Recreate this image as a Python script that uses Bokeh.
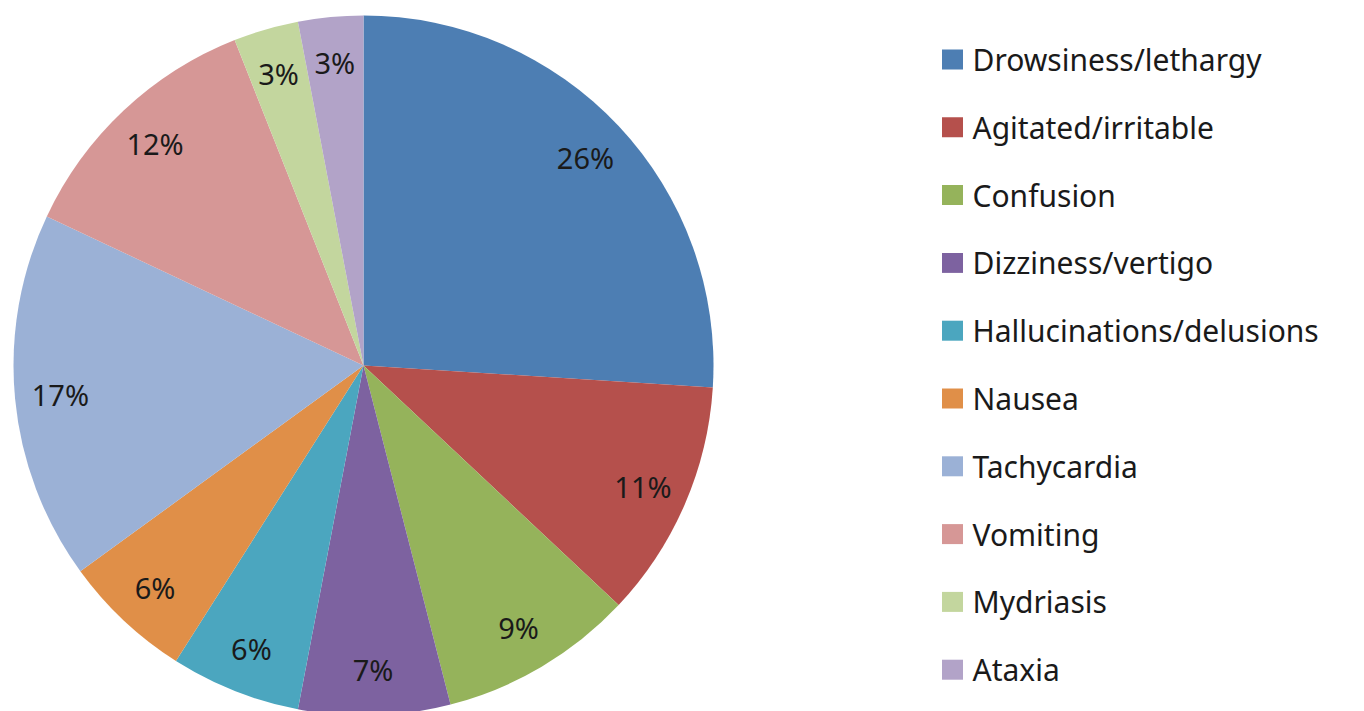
import numpy as np
from bokeh.plotting import figure
from bokeh.models import Range1d, ColumnDataSource
from bokeh.core.properties import value
from bokeh.embed import file_html
from bokeh.resources import INLINE

categories = ["Drowsiness/lethargy", "Agitated/irritable", "Confusion", "Dizziness/vertigo",
              "Hallucinations/delusions", "Nausea", "Tachycardia", "Vomiting", "Mydriasis", "Ataxia"]
percents = [26, 11, 9, 7, 6, 6, 17, 12, 3, 3]
colors = ["#4D7EB3", "#B5504C", "#95B35B", "#7D62A0", "#4BA6BF", "#E08F48",
          "#9BB1D6", "#D69796", "#C3D69E", "#B2A3C8"]

W, H = 1364, 711
p = figure(width=W, height=H, output_backend="svg", toolbar_location=None,
           x_range=Range1d(0, W), y_range=Range1d(0, H), min_border=0)
p.axis.visible = False
p.grid.visible = False
p.outline_line_color = None
p.background_fill_color = "white"

cx, cy, R = 363, H - 365, 350
vals = np.array(percents, dtype=float)
frac = vals / vals.sum()
cum_end = np.cumsum(frac)
cum_start = cum_end - frac
start = np.pi / 2 - cum_start * 2 * np.pi
end = np.pi / 2 - cum_end * 2 * np.pi
mid = (start + end) / 2

src = ColumnDataSource(dict(start=start, end=end, color=colors, cat=categories))
p.wedge(x=cx, y=cy, radius=R, start_angle="start", end_angle="end", direction="clock",
        fill_color="color", line_color=None, source=src)

lr = 0.87 * R
lab = ColumnDataSource(dict(x=cx + lr * np.cos(mid), y=cy + lr * np.sin(mid),
                            t=[f"{v}%" for v in percents]))
p.text(x="x", y="y", text="t", source=lab, text_align="center", text_baseline="middle",
       text_font=value("Noto Sans"), text_font_size="29px", text_color="#1a1a1a")

# legend
n = len(categories)
ly = H - (59 + np.arange(n) * 67.8)
leg = ColumnDataSource(dict(x=[952] * n, y=ly, tx=[972] * n, color=colors, cat=categories))
p.rect(x="x", y="y", width=21, height=20, fill_color="color", line_color=None, source=leg)
p.text(x="tx", y="y", text="cat", source=leg, text_align="left", text_baseline="middle",
       text_font=value("Noto Sans"), text_font_size="30px", text_color="#1a1a1a")

open("out.html", "w").write(file_html(p, INLINE))
